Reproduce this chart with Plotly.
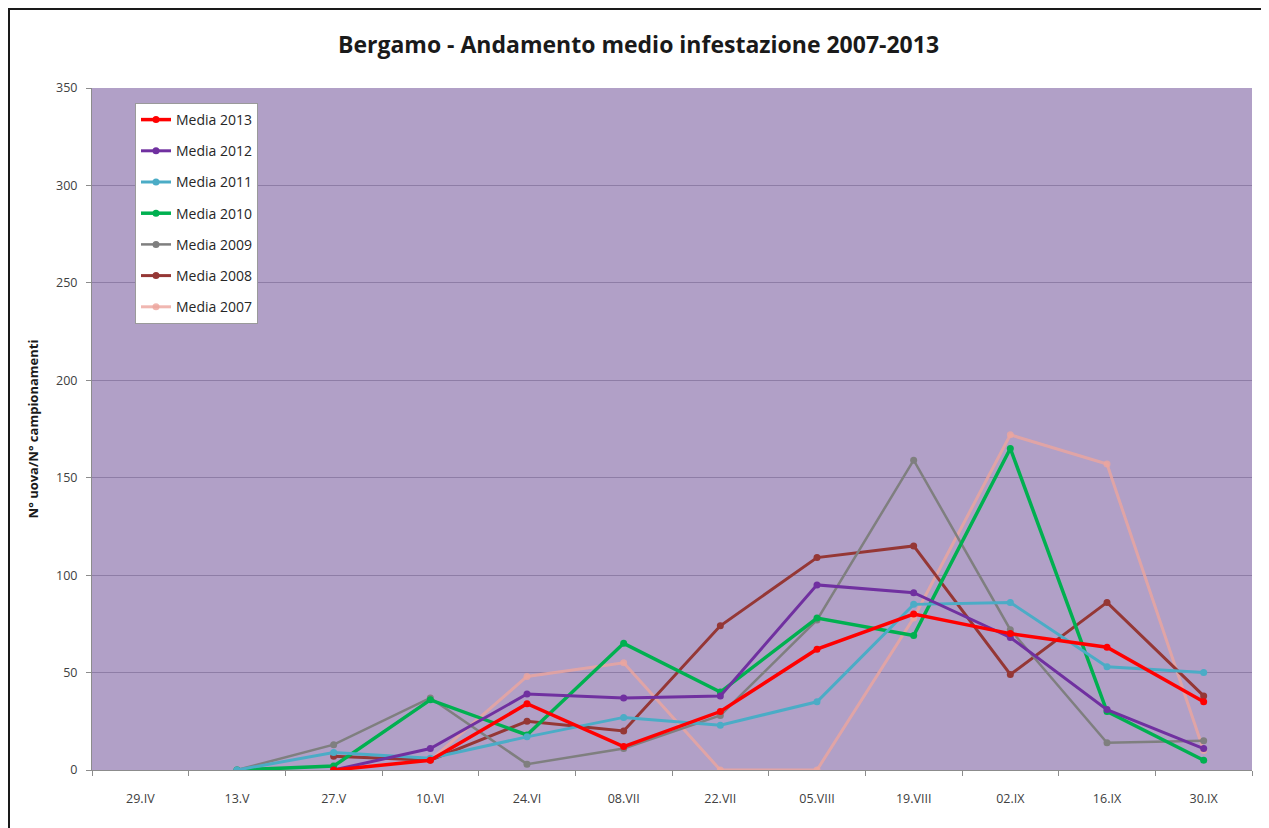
import plotly.graph_objects as go

categories = ["29.IV", "13.V", "27.V", "10.VI", "24.VI", "08.VII", "22.VII",
              "05.VIII", "19.VIII", "02.IX", "16.IX", "30.IX"]

media_2013 = [None, None, 0, 5, 34, 12, 30, 62, 80, 70, 63, 35]
media_2012 = [None, None, 0, 11, 39, 37, 38, 95, 91, 68, 31, 11]
media_2011 = [None, 0, 9, 6, 17, 27, 23, 35, 85, 86, 53, 50]
media_2010 = [None, 0, 2, 36, 18, 65, 40, 78, 69, 165, 30, 5]
media_2009 = [None, 0, 13, 37, 3, 11, 28, 77, 159, 72, 14, 15]
media_2008 = [None, None, 7, 5, 25, 20, 74, 109, 115, 49, 86, 38]
media_2007 = [None, None, 0, 5, 48, 55, 0, 0, 78, 172, 157, 10]

series = [
    ("Media 2007", media_2007, "rgba(236,165,158,0.8)", 3, 7),
    ("Media 2008", media_2008, "#953735", 3, 6),
    ("Media 2009", media_2009, "#7F7F7F", 2.5, 5),
    ("Media 2010", media_2010, "#00B050", 3.5, 4),
    ("Media 2011", media_2011, "#4BACC6", 3, 3),
    ("Media 2012", media_2012, "#7030A0", 3, 2),
    ("Media 2013", media_2013, "#FF0000", 3.5, 1),
]

W, H = 1261, 820
ML, MR, MT, MB = 84, 17, 80, 58
PW, PH = W - ML - MR, H - MT - MB

fig = go.Figure()
for name, vals, color, w, rank in series:
    fig.add_trace(go.Scatter(
        x=categories, y=vals, name=name, mode="lines+markers",
        line=dict(color=color, width=w),
        marker=dict(color=color, size=7, symbol="circle"),
        connectgaps=False, legendgroup=name, legendrank=rank,
    ))

fig.update_layout(
    width=W, height=H,
    paper_bgcolor="white",
    plot_bgcolor="#B1A0C7",
    margin=dict(l=ML, r=MR, t=MT, b=MB),
    title=dict(text="<b>Bergamo - Andamento medio infestazione 2007-2013</b>",
               x=0.5, xanchor="center", y=1 - 37 / H, yanchor="middle",
               font=dict(family="Open Sans", size=23, color="#1a1a1a")),
    showlegend=True,
    legend=dict(
        x=(135 - 92) / PW, y=1 - (103 - 88) / PH, xanchor="left", yanchor="top",
        bgcolor="white", bordercolor="#9a9a9a", borderwidth=1,
        traceorder="grouped", tracegroupgap=10,
        font=dict(family="Open Sans", size=14, color="#262626"),
        itemwidth=30,
    ),
    font=dict(family="Open Sans", color="#404040"),
)

fig.update_xaxes(
    type="category", categoryorder="array", categoryarray=categories,
    range=[-0.5, 11.5], showgrid=False, zeroline=False,
    showline=True, linecolor="#8c8c8c", linewidth=1,
    ticks="outside", tickson="boundaries", ticklen=5, tickcolor="#8c8c8c",
    ticklabelstandoff=17,
    tickfont=dict(family="Open Sans", size=12.5, color="#404040"),
)
fig.update_yaxes(
    range=[0, 350], tickvals=[0, 50, 100, 150, 200, 250, 300, 350],
    showgrid=True, gridcolor="#8E7DA6", gridwidth=1, zeroline=False,
    showline=True, linecolor="#8c8c8c", linewidth=1,
    ticks="outside", ticklen=5, tickcolor="#8c8c8c",
    ticklabelstandoff=6,
    tickfont=dict(family="Open Sans", size=12.5, color="#404040"),
    title=dict(text="<b>N° uova/N° campionamenti</b>", standoff=14,
               font=dict(family="Open Sans", size=13, color="#1a1a1a")),
)

fig.add_shape(type="rect", xref="paper", yref="paper",
              x0=-(ML - 1) / PW, x1=1 + (MR - 1) / PW,
              y0=-(MB + 4) / PH, y1=1 + (MT - 1) / PH,
              line=dict(color="#1a1a1a", width=2), fillcolor="rgba(0,0,0,0)",
              layer="below")

fig.write_html("out.html")
